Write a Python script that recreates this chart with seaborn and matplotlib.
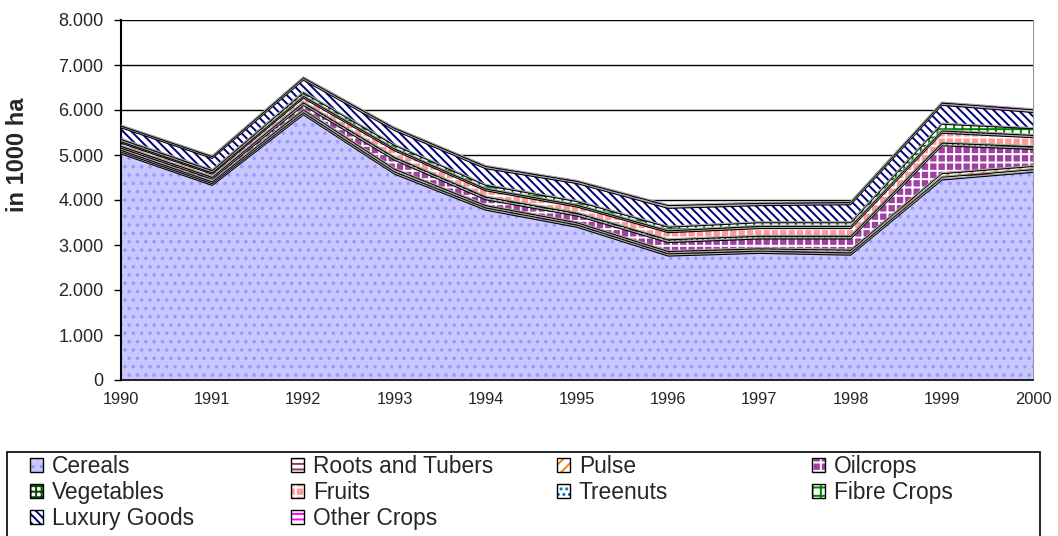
import matplotlib
matplotlib.use('Agg')
import matplotlib.pyplot as plt
import matplotlib.patches as mpatches
from matplotlib.ticker import FuncFormatter
import numpy as np
import pandas as pd
import seaborn as sns

years = [1990, 1991, 1992, 1993, 1994, 1995, 1996, 1997, 1998, 1999, 2000]

cereals = [5030, 4330, 5900, 4580, 3780, 3400, 2760, 2820, 2780, 4450, 4620]
roots = [40, 40, 50, 50, 50, 50, 50, 50, 50, 60, 60]
pulse = [40, 40, 60, 60, 50, 50, 50, 50, 60, 80, 70]
oilcrops = [50, 60, 100, 200, 130, 150, 200, 220, 250, 620, 380]
vegetables = [40, 40, 60, 60, 60, 60, 60, 60, 60, 60, 60]
fruits = [70, 70, 100, 150, 140, 140, 160, 170, 170, 220, 200]
treenuts = [30, 30, 40, 40, 40, 40, 40, 50, 50, 50, 50]
fibre = [50, 50, 80, 80, 80, 80, 80, 80, 80, 150, 150]
luxury = [260, 270, 280, 330, 370, 400, 420, 380, 400, 420, 360]
other = [40, 40, 50, 50, 50, 50, 60, 50, 50, 50, 60]

labels = ['Cereals', 'Roots and Tubers', 'Pulse', 'Oilcrops', 'Vegetables',
          'Fruits', 'Treenuts', 'Fibre Crops', 'Luxury Goods', 'Other Crops']

df = pd.DataFrame({'Cereals': cereals, 'Roots and Tubers': roots, 'Pulse': pulse,
                   'Oilcrops': oilcrops, 'Vegetables': vegetables, 'Fruits': fruits,
                   'Treenuts': treenuts, 'Fibre Crops': fibre, 'Luxury Goods': luxury,
                   'Other Crops': other}, index=years)

# (face colour, hatch colour, hatch)
styles = {
    'Cereals': ('#c8c8ff', '#9999ff', '..'),
    'Roots and Tubers': ('white', '#993366', '---'),
    'Pulse': ('white', '#ff8000', '///'),
    'Oilcrops': ('#a040a0', 'white', '++'),
    'Vegetables': ('white', '#004d00', '+++'),
    'Fruits': ('#ff9999', 'white', '++'),
    'Treenuts': ('white', '#0070c0', '...'),
    'Fibre Crops': ('white', '#008000', '++'),
    'Luxury Goods': ('white', '#000080', '\\\\\\\\'),
    'Other Crops': ('white', '#ff00ff', '---'),
}

sns.set_style('white')
plt.rcParams['font.family'] = ['Liberation Sans', 'DejaVu Sans']
plt.rcParams['hatch.linewidth'] = 1.4

fig = plt.figure(figsize=(10.58, 5.36), dpi=100)
ax = fig.add_axes([121 / 1058, 1 - 380 / 536, (1033 - 121) / 1058, 360 / 536])

for y in range(1000, 8001, 1000):
    ax.axhline(y, color='black', lw=1, zorder=0)

polys = ax.stackplot(df.index, df.T.values, zorder=2)
for p, name in zip(polys, labels):
    fc, hc, h = styles[name]
    p.set_facecolor(fc)
    p.set_edgecolor(hc)
    p.set_hatch(h)
    p.set_linewidth(0)

cum = df.cumsum(axis=1)
for name in labels:
    ax.plot(df.index, cum[name], color='black', lw=1.2, zorder=3)
    ax.plot(df.index, cum[name] + 18, color='#aaaaaa', lw=0.8, zorder=3)

ax.set_xlim(1990, 2000)
ax.set_ylim(0, 8000)
ax.set_xticks(years)
ax.set_xticklabels([str(y) for y in years])
ax.set_yticks(range(0, 8001, 1000))
ax.yaxis.set_major_formatter(FuncFormatter(lambda v, pos: f'{int(v):,}'.replace(',', '.')))
ax.tick_params(axis='y', direction='out', length=5, width=1, color='black', labelsize=13, pad=7.5, left=True)
ax.tick_params(axis='x', direction='out', length=0, labelsize=11.8, pad=9)
ax.spines['top'].set_visible(False)
ax.spines['left'].set_color('black')
ax.spines['bottom'].set_color('black')
ax.spines['right'].set_color('#999999')
ax.spines['left'].set_linewidth(1.5)
ax.spines['bottom'].set_linewidth(1.2)
ax.set_ylabel('')
fig.text(18 / 1058, 1 - 155 / 536, 'in 1000 ha', rotation=90, fontsize=17,
         fontweight='bold', ha='center', va='center')

# legend, row-major like the original: four single-column legends
handles = []
for name in labels:
    fc, hc, h = styles[name]
    fill = mpatches.Patch(facecolor=fc, edgecolor=hc, hatch=h, linewidth=0)
    edge = mpatches.Patch(facecolor='none', edgecolor='black', linewidth=1)
    handles.append((fill, edge))

col_x = [30, 291, 557, 812]
for c in range(4):
    idx = list(range(c, len(labels), 4))
    fig.legend([handles[i] for i in idx], [labels[i] for i in idx],
               loc='upper left', bbox_to_anchor=(col_x[c] / 1058, 1 - 455 / 536),
               frameon=False, fontsize=16.4, handlelength=0.55, handleheight=0.55,
               handletextpad=0.4, labelspacing=0.14, borderaxespad=0, borderpad=0)

fig.patches.append(mpatches.Rectangle((7 / 1058, -0.05), (1040 - 7) / 1058, 0.05 + 1 - 452 / 536,
                                      transform=fig.transFigure, fill=False,
                                      edgecolor='black', lw=1.2))

fig.savefig('out.png', dpi=100)
